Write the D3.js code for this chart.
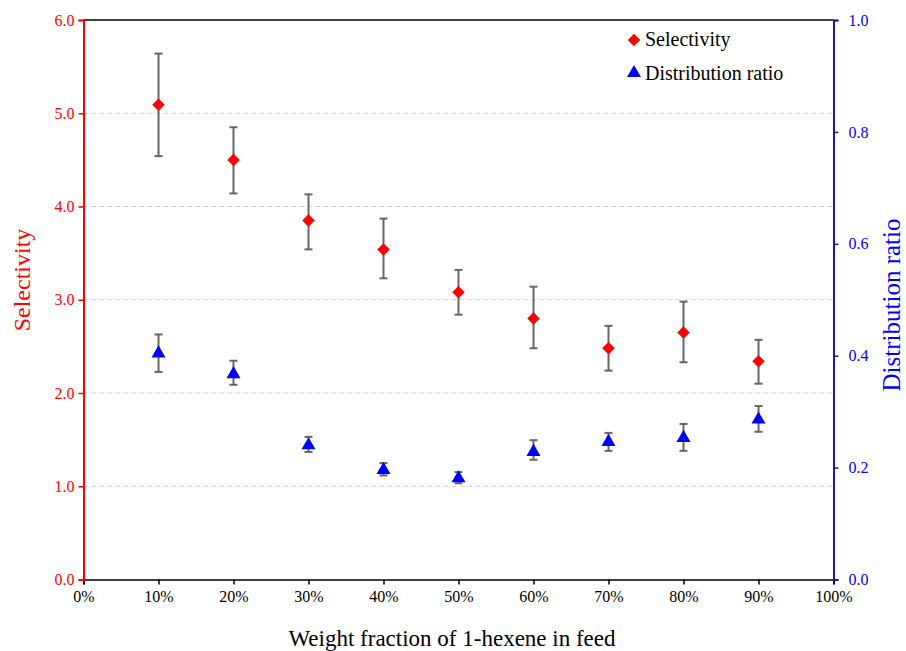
<!DOCTYPE html>
<html><head><meta charset="utf-8">
<script src="https://cdn.jsdelivr.net/npm/d3@7"></script>
<style>body{margin:0;background:#fff}svg{display:block}</style>
</head><body>
<svg id="c" width="906" height="651"></svg>
<script>
const fractions = [0.1,0.2,0.3,0.4,0.5,0.6,0.7,0.8,0.9];
const selectivity = [5.09,4.50,3.85,3.54,3.08,2.80,2.48,2.65,2.34];
const selLow  = [4.54,4.14,3.54,3.23,2.84,2.48,2.24,2.33,2.10];
const selHigh = [5.64,4.85,4.13,3.87,3.32,3.14,2.72,2.98,2.57];
const distRatio = [0.404,0.367,0.240,0.196,0.181,0.228,0.246,0.253,0.286];
const distLow  = [0.371,0.348,0.228,0.186,0.172,0.214,0.230,0.230,0.264];
const distHigh = [0.438,0.391,0.255,0.208,0.192,0.249,0.262,0.278,0.310];
const xTicks = [0,0.1,0.2,0.3,0.4,0.5,0.6,0.7,0.8,0.9,1.0];
const yLeftTicks = [0,1,2,3,4,5,6];
const yRightTicks = [0,0.2,0.4,0.6,0.8,1.0];

const svg = d3.select("#c");
const L=83.5, R=833.5, T=20, B=579.5;
const x = d3.scaleLinear().domain([0,1]).range([L,R]);
const yL = d3.scaleLinear().domain([0,6]).range([B,T]);
const yR = d3.scaleLinear().domain([0,1]).range([B,T]);
const font = "'Liberation Serif','Times New Roman',serif";

// gridlines
svg.append("g").selectAll("line").data([1,2,3,4,5]).join("line")
  .attr("x1",L).attr("x2",R).attr("y1",d=>yL(d)).attr("y2",d=>yL(d))
  .attr("stroke","#d0d0d0").attr("stroke-width",1.2).attr("stroke-dasharray","5,3");

// top border
svg.append("line").attr("x1",L).attr("x2",R).attr("y1",T).attr("y2",T).attr("stroke","#000").attr("stroke-width",1.5);

// x axis
const gx = svg.append("g").attr("transform",`translate(0,${B})`)
  .call(d3.axisBottom(x).tickValues(xTicks).tickFormat(d3.format(".0%")).tickSizeOuter(0).tickSize(5));
gx.select(".domain").attr("stroke","#000").attr("stroke-width",1.5);
gx.selectAll(".tick line").attr("stroke","#000").attr("stroke-width",1.5);
gx.selectAll("text").attr("font-family",font).attr("font-size",16).attr("fill","#000").attr("dy","0.9em");

// left axis
const gl = svg.append("g").attr("transform",`translate(${L},0)`)
  .call(d3.axisLeft(yL).tickValues(yLeftTicks).tickFormat(d3.format(".1f")).tickSizeOuter(0).tickSize(5));
gl.select(".domain").attr("stroke","#ff0000").attr("stroke-width",2);
gl.selectAll(".tick line").attr("stroke","#ff0000").attr("stroke-width",1.5);
gl.selectAll("text").attr("font-family",font).attr("font-size",16).attr("fill","#ff0000").attr("x",-9);

// right axis
const gr = svg.append("g").attr("transform",`translate(${R},0)`)
  .call(d3.axisRight(yR).tickValues(yRightTicks).tickFormat(d3.format(".1f")).tickSizeOuter(0).tickSize(5));
gr.select(".domain").attr("stroke","#1a1aa6").attr("stroke-width",2);
gr.selectAll(".tick line").attr("stroke","#1a1aa6").attr("stroke-width",1.5);
gr.selectAll("text").attr("font-family",font).attr("font-size",16).attr("fill","#0000ff").attr("x",15);

// error bars
function errBars(lo,hi,scale){
  const g = svg.append("g").attr("stroke","#666").attr("stroke-width",2);
  fractions.forEach((f,i)=>{
    const cx=x(f);
    g.append("line").attr("x1",cx).attr("x2",cx).attr("y1",scale(lo[i])).attr("y2",scale(hi[i]));
    g.append("line").attr("x1",cx-4).attr("x2",cx+4).attr("y1",scale(lo[i])).attr("y2",scale(lo[i]));
    g.append("line").attr("x1",cx-4).attr("x2",cx+4).attr("y1",scale(hi[i])).attr("y2",scale(hi[i]));
  });
}
errBars(selLow,selHigh,yL);
errBars(distLow,distHigh,yR);

const diamond = d3.symbol().type(d3.symbolDiamond2).size(100);
const tri = d3.symbol().type(d3.symbolTriangle).size(85);

svg.append("g").selectAll("path").data(selectivity).join("path")
  .attr("d",diamond).attr("fill","#ff0000")
  .attr("transform",(d,i)=>`translate(${x(fractions[i])},${yL(d)})`);
svg.append("g").selectAll("path").data(distRatio).join("path")
  .attr("d",tri).attr("fill","#0000ff")
  .attr("transform",(d,i)=>`translate(${x(fractions[i])},${yR(d)})`);

// legend
svg.append("path").attr("d",diamond).attr("fill","#ff0000").attr("transform","translate(634,40)");
svg.append("text").attr("x",645).attr("y",46).text("Selectivity")
  .attr("font-family",font).attr("font-size",20).attr("fill","#000");
svg.append("path").attr("d",tri).attr("fill","#0000ff").attr("transform","translate(634,73)");
svg.append("text").attr("x",645).attr("y",80).text("Distribution ratio")
  .attr("font-family",font).attr("font-size",20).attr("fill","#000");

// titles
svg.append("text").attr("x",452).attr("y",646).attr("text-anchor","middle")
  .text("Weight fraction of 1-hexene in feed").attr("font-family",font).attr("font-size",23).attr("fill","#000");
svg.append("text").attr("transform",`translate(30,280) rotate(-90)`).attr("text-anchor","middle")
  .text("Selectivity").attr("font-family",font).attr("font-size",24).attr("fill","#ff0000");
svg.append("text").attr("transform",`translate(900,305) rotate(-90)`).attr("text-anchor","middle")
  .text("Distribution ratio").attr("font-family",font).attr("font-size",25).attr("fill","#0000ff");
</script>
</body></html>
